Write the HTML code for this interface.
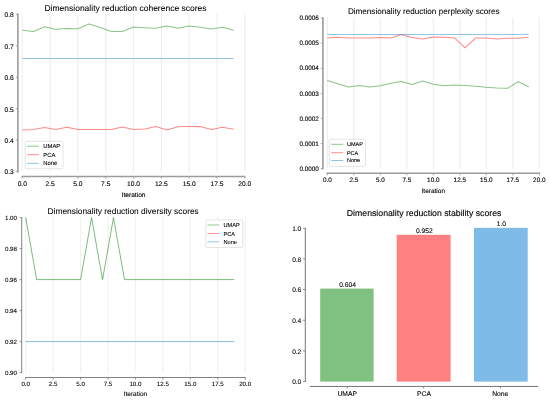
<!DOCTYPE html>
<html><head><meta charset="utf-8"><title>Dimensionality reduction scores</title>
<style>html,body{margin:0;padding:0;background:#fff;}svg{display:block;text-rendering:geometricPrecision;will-change:transform;}text{font-family:"Liberation Sans",sans-serif;}</style></head>
<body>
<svg width="550" height="402" viewBox="0 0 550 402" font-family="'Liberation Sans', sans-serif">
<rect width="550" height="402" fill="#ffffff"/>
<line x1="22.30" y1="13.90" x2="22.30" y2="171.60" stroke="#f3f3f3" stroke-width="1.2"/>
<line x1="22.30" y1="13.90" x2="22.30" y2="171.60" stroke="#e8e8e8" stroke-width="0.6" stroke-dasharray="1 1"/>
<line x1="50.11" y1="13.90" x2="50.11" y2="171.60" stroke="#f3f3f3" stroke-width="1.2"/>
<line x1="50.11" y1="13.90" x2="50.11" y2="171.60" stroke="#e8e8e8" stroke-width="0.6" stroke-dasharray="1 1"/>
<line x1="77.92" y1="13.90" x2="77.92" y2="171.60" stroke="#f3f3f3" stroke-width="1.2"/>
<line x1="77.92" y1="13.90" x2="77.92" y2="171.60" stroke="#e8e8e8" stroke-width="0.6" stroke-dasharray="1 1"/>
<line x1="105.74" y1="13.90" x2="105.74" y2="171.60" stroke="#f3f3f3" stroke-width="1.2"/>
<line x1="105.74" y1="13.90" x2="105.74" y2="171.60" stroke="#e8e8e8" stroke-width="0.6" stroke-dasharray="1 1"/>
<line x1="133.55" y1="13.90" x2="133.55" y2="171.60" stroke="#f3f3f3" stroke-width="1.2"/>
<line x1="133.55" y1="13.90" x2="133.55" y2="171.60" stroke="#e8e8e8" stroke-width="0.6" stroke-dasharray="1 1"/>
<line x1="161.36" y1="13.90" x2="161.36" y2="171.60" stroke="#f3f3f3" stroke-width="1.2"/>
<line x1="161.36" y1="13.90" x2="161.36" y2="171.60" stroke="#e8e8e8" stroke-width="0.6" stroke-dasharray="1 1"/>
<line x1="189.18" y1="13.90" x2="189.18" y2="171.60" stroke="#f3f3f3" stroke-width="1.2"/>
<line x1="189.18" y1="13.90" x2="189.18" y2="171.60" stroke="#e8e8e8" stroke-width="0.6" stroke-dasharray="1 1"/>
<line x1="216.99" y1="13.90" x2="216.99" y2="171.60" stroke="#f3f3f3" stroke-width="1.2"/>
<line x1="216.99" y1="13.90" x2="216.99" y2="171.60" stroke="#e8e8e8" stroke-width="0.6" stroke-dasharray="1 1"/>
<line x1="244.80" y1="13.90" x2="244.80" y2="171.60" stroke="#f3f3f3" stroke-width="1.2"/>
<line x1="244.80" y1="13.90" x2="244.80" y2="171.60" stroke="#e8e8e8" stroke-width="0.6" stroke-dasharray="1 1"/>
<polyline points="22.30,30.30 33.42,31.40 44.55,26.80 55.67,29.20 66.80,28.50 77.92,28.80 89.05,24.00 100.17,27.50 111.30,31.40 122.42,31.40 133.55,27.00 144.68,27.70 155.80,28.30 166.93,25.90 178.05,28.30 189.18,26.10 200.30,27.20 211.43,29.00 222.55,27.20 233.68,30.30" fill="none" stroke="#008000" stroke-opacity="0.46" stroke-width="1.05" stroke-linejoin="round"/>
<polyline points="22.30,129.90 33.42,129.60 44.55,127.50 55.67,129.40 66.80,127.20 77.92,129.40 89.05,129.40 100.17,129.40 111.30,129.40 122.42,127.00 133.55,129.60 144.68,129.00 155.80,126.60 166.93,130.10 178.05,126.80 189.18,126.60 200.30,126.60 211.43,129.40 222.55,127.20 233.68,129.20" fill="none" stroke="#ff0000" stroke-opacity="0.46" stroke-width="1.05" stroke-linejoin="round"/>
<polyline points="22.30,58.40 33.42,58.40 44.55,58.40 55.67,58.40 66.80,58.40 77.92,58.40 89.05,58.40 100.17,58.40 111.30,58.40 122.42,58.40 133.55,58.40 144.68,58.40 155.80,58.40 166.93,58.40 178.05,58.40 189.18,58.40 200.30,58.40 211.43,58.40 222.55,58.40 233.68,58.40" fill="none" stroke="#1480cf" stroke-opacity="0.46" stroke-width="1.05" stroke-linejoin="round"/>
<line x1="17.90" y1="13.60" x2="17.90" y2="172.40" stroke="#9c9c9c" stroke-width="1.6"/>
<line x1="15.80" y1="14.40" x2="17.90" y2="14.40" stroke="#9c9c9c" stroke-width="0.9"/>
<text x="13.70" y="17.23" font-size="6.65" text-anchor="end" fill="#000000" stroke="#000000" stroke-width="0.120">0.8</text>
<line x1="15.80" y1="45.84" x2="17.90" y2="45.84" stroke="#9c9c9c" stroke-width="0.9"/>
<text x="13.70" y="48.67" font-size="6.65" text-anchor="end" fill="#000000" stroke="#000000" stroke-width="0.120">0.7</text>
<line x1="15.80" y1="77.28" x2="17.90" y2="77.28" stroke="#9c9c9c" stroke-width="0.9"/>
<text x="13.70" y="80.11" font-size="6.65" text-anchor="end" fill="#000000" stroke="#000000" stroke-width="0.120">0.6</text>
<line x1="15.80" y1="108.72" x2="17.90" y2="108.72" stroke="#9c9c9c" stroke-width="0.9"/>
<text x="13.70" y="111.55" font-size="6.65" text-anchor="end" fill="#000000" stroke="#000000" stroke-width="0.120">0.5</text>
<line x1="15.80" y1="140.16" x2="17.90" y2="140.16" stroke="#9c9c9c" stroke-width="0.9"/>
<text x="13.70" y="142.99" font-size="6.65" text-anchor="end" fill="#000000" stroke="#000000" stroke-width="0.120">0.4</text>
<line x1="15.80" y1="171.60" x2="17.90" y2="171.60" stroke="#9c9c9c" stroke-width="0.9"/>
<text x="13.70" y="174.43" font-size="6.65" text-anchor="end" fill="#000000" stroke="#000000" stroke-width="0.120">0.3</text>
<line x1="21.50" y1="176.50" x2="245.60" y2="176.50" stroke="#9c9c9c" stroke-width="1.6"/>
<line x1="22.30" y1="176.50" x2="22.30" y2="178.60" stroke="#9c9c9c" stroke-width="0.9"/>
<text x="22.30" y="185.98" font-size="6.65" text-anchor="middle" fill="#000000" stroke="#000000" stroke-width="0.120">0.0</text>
<line x1="50.11" y1="176.50" x2="50.11" y2="178.60" stroke="#9c9c9c" stroke-width="0.9"/>
<text x="50.11" y="185.98" font-size="6.65" text-anchor="middle" fill="#000000" stroke="#000000" stroke-width="0.120">2.5</text>
<line x1="77.92" y1="176.50" x2="77.92" y2="178.60" stroke="#9c9c9c" stroke-width="0.9"/>
<text x="77.92" y="185.98" font-size="6.65" text-anchor="middle" fill="#000000" stroke="#000000" stroke-width="0.120">5.0</text>
<line x1="105.74" y1="176.50" x2="105.74" y2="178.60" stroke="#9c9c9c" stroke-width="0.9"/>
<text x="105.74" y="185.98" font-size="6.65" text-anchor="middle" fill="#000000" stroke="#000000" stroke-width="0.120">7.5</text>
<line x1="133.55" y1="176.50" x2="133.55" y2="178.60" stroke="#9c9c9c" stroke-width="0.9"/>
<text x="133.55" y="185.98" font-size="6.65" text-anchor="middle" fill="#000000" stroke="#000000" stroke-width="0.120">10.0</text>
<line x1="161.36" y1="176.50" x2="161.36" y2="178.60" stroke="#9c9c9c" stroke-width="0.9"/>
<text x="161.36" y="185.98" font-size="6.65" text-anchor="middle" fill="#000000" stroke="#000000" stroke-width="0.120">12.5</text>
<line x1="189.18" y1="176.50" x2="189.18" y2="178.60" stroke="#9c9c9c" stroke-width="0.9"/>
<text x="189.18" y="185.98" font-size="6.65" text-anchor="middle" fill="#000000" stroke="#000000" stroke-width="0.120">15.0</text>
<line x1="216.99" y1="176.50" x2="216.99" y2="178.60" stroke="#9c9c9c" stroke-width="0.9"/>
<text x="216.99" y="185.98" font-size="6.65" text-anchor="middle" fill="#000000" stroke="#000000" stroke-width="0.120">17.5</text>
<line x1="244.80" y1="176.50" x2="244.80" y2="178.60" stroke="#9c9c9c" stroke-width="0.9"/>
<text x="244.80" y="185.98" font-size="6.65" text-anchor="middle" fill="#000000" stroke="#000000" stroke-width="0.120">20.0</text>
<text x="133.55" y="196.58" font-size="6.65" text-anchor="middle" fill="#000000" stroke="#000000" stroke-width="0.120">Iteration</text>
<text x="125.50" y="10.89" font-size="8.5" text-anchor="middle" fill="#000000" stroke="#000000" stroke-width="0.069">Dimensionality reduction coherence scores</text>
<rect x="25.20" y="141.40" width="37.90" height="27.30" rx="1.3" fill="#ffffff" fill-opacity="0.8" stroke="#d2d2d2" stroke-width="0.6"/>
<line x1="27.10" y1="146.20" x2="38.90" y2="146.20" stroke="#80c080" stroke-width="0.89"/>
<text x="43.30" y="148.29" font-size="5.85" text-anchor="start" fill="#000000" stroke="#000000" stroke-width="0.105">UMAP</text>
<line x1="27.10" y1="154.70" x2="38.90" y2="154.70" stroke="#ff8080" stroke-width="0.89"/>
<text x="43.30" y="156.79" font-size="5.85" text-anchor="start" fill="#000000" stroke="#000000" stroke-width="0.105">PCA</text>
<line x1="27.10" y1="163.30" x2="38.90" y2="163.30" stroke="#7fbbe8" stroke-width="0.89"/>
<text x="43.30" y="165.39" font-size="5.85" text-anchor="start" fill="#000000" stroke="#000000" stroke-width="0.105">None</text>
<line x1="327.30" y1="17.60" x2="327.30" y2="168.60" stroke="#f3f3f3" stroke-width="1.2"/>
<line x1="327.30" y1="17.60" x2="327.30" y2="168.60" stroke="#e8e8e8" stroke-width="0.6" stroke-dasharray="1 1"/>
<line x1="353.80" y1="17.60" x2="353.80" y2="168.60" stroke="#f3f3f3" stroke-width="1.2"/>
<line x1="353.80" y1="17.60" x2="353.80" y2="168.60" stroke="#e8e8e8" stroke-width="0.6" stroke-dasharray="1 1"/>
<line x1="380.30" y1="17.60" x2="380.30" y2="168.60" stroke="#f3f3f3" stroke-width="1.2"/>
<line x1="380.30" y1="17.60" x2="380.30" y2="168.60" stroke="#e8e8e8" stroke-width="0.6" stroke-dasharray="1 1"/>
<line x1="406.80" y1="17.60" x2="406.80" y2="168.60" stroke="#f3f3f3" stroke-width="1.2"/>
<line x1="406.80" y1="17.60" x2="406.80" y2="168.60" stroke="#e8e8e8" stroke-width="0.6" stroke-dasharray="1 1"/>
<line x1="433.30" y1="17.60" x2="433.30" y2="168.60" stroke="#f3f3f3" stroke-width="1.2"/>
<line x1="433.30" y1="17.60" x2="433.30" y2="168.60" stroke="#e8e8e8" stroke-width="0.6" stroke-dasharray="1 1"/>
<line x1="459.80" y1="17.60" x2="459.80" y2="168.60" stroke="#f3f3f3" stroke-width="1.2"/>
<line x1="459.80" y1="17.60" x2="459.80" y2="168.60" stroke="#e8e8e8" stroke-width="0.6" stroke-dasharray="1 1"/>
<line x1="486.30" y1="17.60" x2="486.30" y2="168.60" stroke="#f3f3f3" stroke-width="1.2"/>
<line x1="486.30" y1="17.60" x2="486.30" y2="168.60" stroke="#e8e8e8" stroke-width="0.6" stroke-dasharray="1 1"/>
<line x1="512.80" y1="17.60" x2="512.80" y2="168.60" stroke="#f3f3f3" stroke-width="1.2"/>
<line x1="512.80" y1="17.60" x2="512.80" y2="168.60" stroke="#e8e8e8" stroke-width="0.6" stroke-dasharray="1 1"/>
<line x1="539.30" y1="17.60" x2="539.30" y2="168.60" stroke="#f3f3f3" stroke-width="1.2"/>
<line x1="539.30" y1="17.60" x2="539.30" y2="168.60" stroke="#e8e8e8" stroke-width="0.6" stroke-dasharray="1 1"/>
<polyline points="327.30,80.50 337.90,83.80 348.50,87.00 359.10,85.50 369.70,87.00 380.30,85.70 390.90,83.30 401.50,81.60 412.10,84.40 422.70,81.10 433.30,84.20 443.90,85.70 454.50,85.10 465.10,85.50 475.70,86.20 486.30,87.30 496.90,88.10 507.50,88.30 518.10,81.80 528.70,86.80" fill="none" stroke="#008000" stroke-opacity="0.46" stroke-width="1.05" stroke-linejoin="round"/>
<polyline points="327.30,38.10 337.90,37.20 348.50,37.90 359.10,37.90 369.70,38.10 380.30,37.50 390.90,38.10 401.50,34.40 412.10,37.50 422.70,39.00 433.30,37.10 443.90,37.20 454.50,37.90 465.10,47.90 475.70,37.90 486.30,38.10 496.90,39.00 507.50,38.30 518.10,38.30 528.70,37.20" fill="none" stroke="#ff0000" stroke-opacity="0.46" stroke-width="1.05" stroke-linejoin="round"/>
<polyline points="327.30,34.40 337.90,34.40 348.50,34.40 359.10,34.40 369.70,34.40 380.30,34.40 390.90,34.40 401.50,34.40 412.10,34.40 422.70,34.40 433.30,34.40 443.90,34.40 454.50,34.40 465.10,34.40 475.70,34.40 486.30,34.40 496.90,34.40 507.50,34.40 518.10,34.40 528.70,34.40" fill="none" stroke="#1480cf" stroke-opacity="0.46" stroke-width="1.05" stroke-linejoin="round"/>
<line x1="322.90" y1="17.30" x2="322.90" y2="169.40" stroke="#9c9c9c" stroke-width="1.6"/>
<line x1="320.80" y1="18.10" x2="322.90" y2="18.10" stroke="#9c9c9c" stroke-width="0.9"/>
<text x="318.90" y="20.27" font-size="6.35" text-anchor="end" fill="#000000" stroke="#000000" stroke-width="0.114">0.0006</text>
<line x1="320.80" y1="43.18" x2="322.90" y2="43.18" stroke="#9c9c9c" stroke-width="0.9"/>
<text x="318.90" y="45.36" font-size="6.35" text-anchor="end" fill="#000000" stroke="#000000" stroke-width="0.114">0.0005</text>
<line x1="320.80" y1="68.27" x2="322.90" y2="68.27" stroke="#9c9c9c" stroke-width="0.9"/>
<text x="318.90" y="70.44" font-size="6.35" text-anchor="end" fill="#000000" stroke="#000000" stroke-width="0.114">0.0004</text>
<line x1="320.80" y1="93.35" x2="322.90" y2="93.35" stroke="#9c9c9c" stroke-width="0.9"/>
<text x="318.90" y="95.52" font-size="6.35" text-anchor="end" fill="#000000" stroke="#000000" stroke-width="0.114">0.0003</text>
<line x1="320.80" y1="118.43" x2="322.90" y2="118.43" stroke="#9c9c9c" stroke-width="0.9"/>
<text x="318.90" y="120.61" font-size="6.35" text-anchor="end" fill="#000000" stroke="#000000" stroke-width="0.114">0.0002</text>
<line x1="320.80" y1="143.52" x2="322.90" y2="143.52" stroke="#9c9c9c" stroke-width="0.9"/>
<text x="318.90" y="145.69" font-size="6.35" text-anchor="end" fill="#000000" stroke="#000000" stroke-width="0.114">0.0001</text>
<line x1="320.80" y1="168.60" x2="322.90" y2="168.60" stroke="#9c9c9c" stroke-width="0.9"/>
<text x="318.90" y="170.77" font-size="6.35" text-anchor="end" fill="#000000" stroke="#000000" stroke-width="0.114">0.0000</text>
<line x1="326.50" y1="173.20" x2="540.10" y2="173.20" stroke="#9c9c9c" stroke-width="1.6"/>
<line x1="327.30" y1="173.20" x2="327.30" y2="175.30" stroke="#9c9c9c" stroke-width="0.9"/>
<text x="327.30" y="181.92" font-size="6.35" text-anchor="middle" fill="#000000" stroke="#000000" stroke-width="0.114">0.0</text>
<line x1="353.80" y1="173.20" x2="353.80" y2="175.30" stroke="#9c9c9c" stroke-width="0.9"/>
<text x="353.80" y="181.92" font-size="6.35" text-anchor="middle" fill="#000000" stroke="#000000" stroke-width="0.114">2.5</text>
<line x1="380.30" y1="173.20" x2="380.30" y2="175.30" stroke="#9c9c9c" stroke-width="0.9"/>
<text x="380.30" y="181.92" font-size="6.35" text-anchor="middle" fill="#000000" stroke="#000000" stroke-width="0.114">5.0</text>
<line x1="406.80" y1="173.20" x2="406.80" y2="175.30" stroke="#9c9c9c" stroke-width="0.9"/>
<text x="406.80" y="181.92" font-size="6.35" text-anchor="middle" fill="#000000" stroke="#000000" stroke-width="0.114">7.5</text>
<line x1="433.30" y1="173.20" x2="433.30" y2="175.30" stroke="#9c9c9c" stroke-width="0.9"/>
<text x="433.30" y="181.92" font-size="6.35" text-anchor="middle" fill="#000000" stroke="#000000" stroke-width="0.114">10.0</text>
<line x1="459.80" y1="173.20" x2="459.80" y2="175.30" stroke="#9c9c9c" stroke-width="0.9"/>
<text x="459.80" y="181.92" font-size="6.35" text-anchor="middle" fill="#000000" stroke="#000000" stroke-width="0.114">12.5</text>
<line x1="486.30" y1="173.20" x2="486.30" y2="175.30" stroke="#9c9c9c" stroke-width="0.9"/>
<text x="486.30" y="181.92" font-size="6.35" text-anchor="middle" fill="#000000" stroke="#000000" stroke-width="0.114">15.0</text>
<line x1="512.80" y1="173.20" x2="512.80" y2="175.30" stroke="#9c9c9c" stroke-width="0.9"/>
<text x="512.80" y="181.92" font-size="6.35" text-anchor="middle" fill="#000000" stroke="#000000" stroke-width="0.114">17.5</text>
<line x1="539.30" y1="173.20" x2="539.30" y2="175.30" stroke="#9c9c9c" stroke-width="0.9"/>
<text x="539.30" y="181.92" font-size="6.35" text-anchor="middle" fill="#000000" stroke="#000000" stroke-width="0.114">20.0</text>
<text x="433.30" y="193.33" font-size="6.5" text-anchor="middle" fill="#000000" stroke="#000000" stroke-width="0.117">Iteration</text>
<text x="423.75" y="14.22" font-size="8.15" text-anchor="middle" fill="#000000" stroke="#000000" stroke-width="0.066">Dimensionality reduction perplexity scores</text>
<rect x="329.20" y="139.20" width="36.40" height="27.10" rx="1.3" fill="#ffffff" fill-opacity="0.8" stroke="#d2d2d2" stroke-width="0.6"/>
<line x1="331.20" y1="144.30" x2="343.20" y2="144.30" stroke="#80c080" stroke-width="0.89"/>
<text x="346.90" y="146.29" font-size="5.55" text-anchor="start" fill="#000000" stroke="#000000" stroke-width="0.100">UMAP</text>
<line x1="331.20" y1="152.70" x2="343.20" y2="152.70" stroke="#ff8080" stroke-width="0.89"/>
<text x="346.90" y="154.69" font-size="5.55" text-anchor="start" fill="#000000" stroke="#000000" stroke-width="0.100">PCA</text>
<line x1="331.20" y1="160.50" x2="343.20" y2="160.50" stroke="#7fbbe8" stroke-width="0.89"/>
<text x="346.90" y="162.49" font-size="5.55" text-anchor="start" fill="#000000" stroke="#000000" stroke-width="0.100">None</text>
<line x1="25.70" y1="217.10" x2="25.70" y2="372.70" stroke="#f4f4f4" stroke-width="1.2"/>
<line x1="25.70" y1="217.10" x2="25.70" y2="372.70" stroke="#ededed" stroke-width="0.6" stroke-dasharray="1 1"/>
<line x1="53.14" y1="217.10" x2="53.14" y2="372.70" stroke="#f4f4f4" stroke-width="1.2"/>
<line x1="53.14" y1="217.10" x2="53.14" y2="372.70" stroke="#ededed" stroke-width="0.6" stroke-dasharray="1 1"/>
<line x1="80.58" y1="217.10" x2="80.58" y2="372.70" stroke="#f4f4f4" stroke-width="1.2"/>
<line x1="80.58" y1="217.10" x2="80.58" y2="372.70" stroke="#ededed" stroke-width="0.6" stroke-dasharray="1 1"/>
<line x1="108.01" y1="217.10" x2="108.01" y2="372.70" stroke="#f4f4f4" stroke-width="1.2"/>
<line x1="108.01" y1="217.10" x2="108.01" y2="372.70" stroke="#ededed" stroke-width="0.6" stroke-dasharray="1 1"/>
<line x1="135.45" y1="217.10" x2="135.45" y2="372.70" stroke="#f4f4f4" stroke-width="1.2"/>
<line x1="135.45" y1="217.10" x2="135.45" y2="372.70" stroke="#ededed" stroke-width="0.6" stroke-dasharray="1 1"/>
<line x1="162.89" y1="217.10" x2="162.89" y2="372.70" stroke="#f4f4f4" stroke-width="1.2"/>
<line x1="162.89" y1="217.10" x2="162.89" y2="372.70" stroke="#ededed" stroke-width="0.6" stroke-dasharray="1 1"/>
<line x1="190.32" y1="217.10" x2="190.32" y2="372.70" stroke="#f4f4f4" stroke-width="1.2"/>
<line x1="190.32" y1="217.10" x2="190.32" y2="372.70" stroke="#ededed" stroke-width="0.6" stroke-dasharray="1 1"/>
<line x1="217.76" y1="217.10" x2="217.76" y2="372.70" stroke="#f4f4f4" stroke-width="1.2"/>
<line x1="217.76" y1="217.10" x2="217.76" y2="372.70" stroke="#ededed" stroke-width="0.6" stroke-dasharray="1 1"/>
<line x1="245.20" y1="217.10" x2="245.20" y2="372.70" stroke="#f4f4f4" stroke-width="1.2"/>
<line x1="245.20" y1="217.10" x2="245.20" y2="372.70" stroke="#ededed" stroke-width="0.6" stroke-dasharray="1 1"/>
<polyline points="25.70,217.60 36.67,279.60 47.65,279.60 58.62,279.60 69.60,279.60 80.58,279.60 91.55,217.60 102.53,279.60 113.50,217.60 124.47,279.60 135.45,279.60 146.42,279.60 157.40,279.60 168.37,279.60 179.35,279.60 190.32,279.60 201.30,279.60 212.27,279.60 223.25,279.60 234.22,279.60" fill="none" stroke="#008000" stroke-opacity="0.52" stroke-width="1.0" stroke-linejoin="round"/>
<polyline points="25.70,341.60 36.67,341.60 47.65,341.60 58.62,341.60 69.60,341.60 80.58,341.60 91.55,341.60 102.53,341.60 113.50,341.60 124.47,341.60 135.45,341.60 146.42,341.60 157.40,341.60 168.37,341.60 179.35,341.60 190.32,341.60 201.30,341.60 212.27,341.60 223.25,341.60 234.22,341.60" fill="none" stroke="#1480cf" stroke-opacity="0.52" stroke-width="1.0" stroke-linejoin="round"/>
<line x1="21.70" y1="217.22" x2="21.70" y2="373.07" stroke="#5a5a5a" stroke-width="0.75"/>
<line x1="19.60" y1="217.60" x2="21.70" y2="217.60" stroke="#5a5a5a" stroke-width="0.65"/>
<text x="17.00" y="219.82" font-size="6.2" text-anchor="end" fill="#000000" stroke="#000000" stroke-width="0.087">1.00</text>
<line x1="19.60" y1="248.62" x2="21.70" y2="248.62" stroke="#5a5a5a" stroke-width="0.65"/>
<text x="17.00" y="250.84" font-size="6.2" text-anchor="end" fill="#000000" stroke="#000000" stroke-width="0.087">0.98</text>
<line x1="19.60" y1="279.64" x2="21.70" y2="279.64" stroke="#5a5a5a" stroke-width="0.65"/>
<text x="17.00" y="281.86" font-size="6.2" text-anchor="end" fill="#000000" stroke="#000000" stroke-width="0.087">0.96</text>
<line x1="19.60" y1="310.66" x2="21.70" y2="310.66" stroke="#5a5a5a" stroke-width="0.65"/>
<text x="17.00" y="312.88" font-size="6.2" text-anchor="end" fill="#000000" stroke="#000000" stroke-width="0.087">0.94</text>
<line x1="19.60" y1="341.68" x2="21.70" y2="341.68" stroke="#5a5a5a" stroke-width="0.65"/>
<text x="17.00" y="343.90" font-size="6.2" text-anchor="end" fill="#000000" stroke="#000000" stroke-width="0.087">0.92</text>
<line x1="19.60" y1="372.70" x2="21.70" y2="372.70" stroke="#5a5a5a" stroke-width="0.65"/>
<text x="17.00" y="374.92" font-size="6.2" text-anchor="end" fill="#000000" stroke="#000000" stroke-width="0.087">0.90</text>
<line x1="25.32" y1="377.50" x2="245.57" y2="377.50" stroke="#5a5a5a" stroke-width="0.75"/>
<line x1="25.70" y1="377.50" x2="25.70" y2="379.60" stroke="#5a5a5a" stroke-width="0.65"/>
<text x="25.70" y="386.32" font-size="6.2" text-anchor="middle" fill="#000000" stroke="#000000" stroke-width="0.087">0.0</text>
<line x1="53.14" y1="377.50" x2="53.14" y2="379.60" stroke="#5a5a5a" stroke-width="0.65"/>
<text x="53.14" y="386.32" font-size="6.2" text-anchor="middle" fill="#000000" stroke="#000000" stroke-width="0.087">2.5</text>
<line x1="80.58" y1="377.50" x2="80.58" y2="379.60" stroke="#5a5a5a" stroke-width="0.65"/>
<text x="80.58" y="386.32" font-size="6.2" text-anchor="middle" fill="#000000" stroke="#000000" stroke-width="0.087">5.0</text>
<line x1="108.01" y1="377.50" x2="108.01" y2="379.60" stroke="#5a5a5a" stroke-width="0.65"/>
<text x="108.01" y="386.32" font-size="6.2" text-anchor="middle" fill="#000000" stroke="#000000" stroke-width="0.087">7.5</text>
<line x1="135.45" y1="377.50" x2="135.45" y2="379.60" stroke="#5a5a5a" stroke-width="0.65"/>
<text x="135.45" y="386.32" font-size="6.2" text-anchor="middle" fill="#000000" stroke="#000000" stroke-width="0.087">10.0</text>
<line x1="162.89" y1="377.50" x2="162.89" y2="379.60" stroke="#5a5a5a" stroke-width="0.65"/>
<text x="162.89" y="386.32" font-size="6.2" text-anchor="middle" fill="#000000" stroke="#000000" stroke-width="0.087">12.5</text>
<line x1="190.32" y1="377.50" x2="190.32" y2="379.60" stroke="#5a5a5a" stroke-width="0.65"/>
<text x="190.32" y="386.32" font-size="6.2" text-anchor="middle" fill="#000000" stroke="#000000" stroke-width="0.087">15.0</text>
<line x1="217.76" y1="377.50" x2="217.76" y2="379.60" stroke="#5a5a5a" stroke-width="0.65"/>
<text x="217.76" y="386.32" font-size="6.2" text-anchor="middle" fill="#000000" stroke="#000000" stroke-width="0.087">17.5</text>
<line x1="245.20" y1="377.50" x2="245.20" y2="379.60" stroke="#5a5a5a" stroke-width="0.65"/>
<text x="245.20" y="386.32" font-size="6.2" text-anchor="middle" fill="#000000" stroke="#000000" stroke-width="0.087">20.0</text>
<text x="135.45" y="395.83" font-size="6.5" text-anchor="middle" fill="#000000" stroke="#000000" stroke-width="0.091">Iteration</text>
<text x="123.15" y="213.71" font-size="8.4" text-anchor="middle" fill="#000000" stroke="#000000" stroke-width="0.053">Dimensionality reduction diversity scores</text>
<rect x="205.80" y="219.90" width="36.90" height="27.60" rx="1.3" fill="#ffffff" fill-opacity="0.8" stroke="#d2d2d2" stroke-width="0.6"/>
<line x1="207.50" y1="225.00" x2="219.20" y2="225.00" stroke="#80c080" stroke-width="0.85"/>
<text x="223.40" y="227.04" font-size="5.7" text-anchor="start" fill="#000000" stroke="#000000" stroke-width="0.080">UMAP</text>
<line x1="207.50" y1="233.50" x2="219.20" y2="233.50" stroke="#ff8080" stroke-width="0.85"/>
<text x="223.40" y="235.54" font-size="5.7" text-anchor="start" fill="#000000" stroke="#000000" stroke-width="0.080">PCA</text>
<line x1="207.50" y1="241.80" x2="219.20" y2="241.80" stroke="#7fbbe8" stroke-width="0.85"/>
<text x="223.40" y="243.84" font-size="5.7" text-anchor="start" fill="#000000" stroke="#000000" stroke-width="0.080">None</text>
<rect x="320.20" y="288.60" width="53.40" height="93.00" fill="#80c080"/>
<text x="347.50" y="287.15" font-size="6.7" text-anchor="middle" fill="#000000" stroke="#000000" stroke-width="0.094">0.604</text>
<line x1="347.20" y1="386.45" x2="347.20" y2="388.6" stroke="#666666" stroke-width="0.7"/>
<text x="347.15" y="396.22" font-size="6.75" text-anchor="middle" fill="#000000" stroke="#000000" stroke-width="0.095">UMAP</text>
<rect x="396.70" y="234.80" width="53.90" height="146.80" fill="#ff8080"/>
<text x="424.25" y="233.35" font-size="6.7" text-anchor="middle" fill="#000000" stroke="#000000" stroke-width="0.094">0.952</text>
<line x1="423.70" y1="386.45" x2="423.70" y2="388.6" stroke="#666666" stroke-width="0.7"/>
<text x="424.00" y="396.22" font-size="6.75" text-anchor="middle" fill="#000000" stroke="#000000" stroke-width="0.095">PCA</text>
<rect x="474.00" y="227.85" width="53.70" height="153.75" fill="#7fbbe8"/>
<text x="501.45" y="226.40" font-size="6.7" text-anchor="middle" fill="#000000" stroke="#000000" stroke-width="0.094">1.0</text>
<line x1="500.40" y1="386.45" x2="500.40" y2="388.6" stroke="#666666" stroke-width="0.7"/>
<text x="500.20" y="396.22" font-size="6.75" text-anchor="middle" fill="#000000" stroke="#000000" stroke-width="0.095">None</text>
<line x1="305.3" y1="228.0" x2="305.3" y2="381.90000000000003" stroke="#666666" stroke-width="0.9"/>
<line x1="303.0" y1="228.30" x2="305.3" y2="228.30" stroke="#666666" stroke-width="0.7"/>
<text x="301.30" y="230.96" font-size="6.6" text-anchor="end" fill="#000000" stroke="#000000" stroke-width="0.092">1.0</text>
<line x1="303.0" y1="258.96" x2="305.3" y2="258.96" stroke="#666666" stroke-width="0.7"/>
<text x="301.30" y="261.62" font-size="6.6" text-anchor="end" fill="#000000" stroke="#000000" stroke-width="0.092">0.8</text>
<line x1="303.0" y1="289.62" x2="305.3" y2="289.62" stroke="#666666" stroke-width="0.7"/>
<text x="301.30" y="292.28" font-size="6.6" text-anchor="end" fill="#000000" stroke="#000000" stroke-width="0.092">0.6</text>
<line x1="303.0" y1="320.28" x2="305.3" y2="320.28" stroke="#666666" stroke-width="0.7"/>
<text x="301.30" y="322.94" font-size="6.6" text-anchor="end" fill="#000000" stroke="#000000" stroke-width="0.092">0.4</text>
<line x1="303.0" y1="350.94" x2="305.3" y2="350.94" stroke="#666666" stroke-width="0.7"/>
<text x="301.30" y="353.60" font-size="6.6" text-anchor="end" fill="#000000" stroke="#000000" stroke-width="0.092">0.2</text>
<line x1="303.0" y1="381.60" x2="305.3" y2="381.60" stroke="#666666" stroke-width="0.7"/>
<text x="301.30" y="384.26" font-size="6.6" text-anchor="end" fill="#000000" stroke="#000000" stroke-width="0.092">0.0</text>
<line x1="309.9" y1="386.45" x2="538.1" y2="386.45" stroke="#666666" stroke-width="0.9"/>
<text x="424.10" y="216.13" font-size="8.73" text-anchor="middle" fill="#000000" stroke="#000000" stroke-width="0.122">Dimensionality reduction stability scores</text>
</svg>
</body></html>
